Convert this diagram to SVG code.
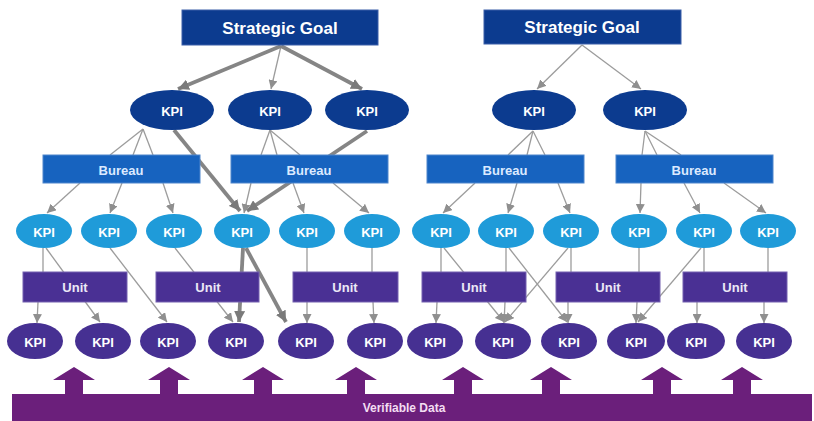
<svg xmlns="http://www.w3.org/2000/svg" width="814" height="421" viewBox="0 0 814 421">
<style>
text{font-family:"Liberation Sans",Arial,sans-serif;font-weight:bold;text-anchor:middle;dominant-baseline:central}
.goal{fill:#0c3b8f;stroke:#3a5fa8;stroke-width:1}
.goal-t{fill:#ffffff;font-size:17px}
.kd{fill:#0c3b8f}
.kd-t{fill:#ffffff;font-size:13px}
.bur{fill:#1763bf;stroke:#4f86cc;stroke-width:1}
.bur-t{fill:#dceaff;font-size:13px}
.kl{fill:#1f9bd9}
.kl-t{fill:#ffffff;font-size:13px}
.unit{fill:#4a3094;stroke:#7461b0;stroke-width:1}
.unit-t{fill:#ece8f7;font-size:13px}
.kp{fill:#463092}
.kp-t{fill:#ffffff;font-size:13px}
.data{fill:#6b1f7b}
.data-t{fill:#f3ddf2;font-size:12px}
.c{stroke:#9c9c9c;stroke-width:1.3;fill:none}
.ca{stroke:#9c9c9c;stroke-width:1.3;fill:none;marker-end:url(#ah)}
.ct{stroke:#858585;stroke-width:3.8;fill:none;marker-end:url(#aht)}
</style>
<defs>
<marker id="ah" markerUnits="userSpaceOnUse" markerWidth="9" markerHeight="9" refX="8" refY="4" orient="auto" viewBox="0 0 8 8"><path d="M0,0 L8,4 L0,8 z" fill="#8f8f8f"/></marker>
<marker id="aht" markerUnits="userSpaceOnUse" markerWidth="11" markerHeight="11" refX="8" refY="4" orient="auto" viewBox="0 0 8 8"><path d="M0,0 L8,4 L0,8 z" fill="#7a7a7a"/></marker>
</defs>
<rect width="814" height="421" fill="#ffffff"/>
<g id="connectors">
<line class="ca" x1="281" y1="46" x2="271" y2="89"/>
<line class="ct" x1="281" y1="46" x2="178" y2="89"/>
<line class="ct" x1="281" y1="46" x2="362" y2="89"/>
<line class="ca" x1="582" y1="45" x2="537" y2="89"/>
<line class="ca" x1="582" y1="45" x2="641" y2="89"/>
<line class="c" x1="143" y1="129" x2="110" y2="155"/>
<line class="c" x1="143" y1="129" x2="133" y2="155"/>
<line class="c" x1="143" y1="129" x2="153" y2="155"/>
<line class="c" x1="270" y1="130" x2="261" y2="155"/>
<line class="c" x1="270" y1="130" x2="277" y2="155"/>
<line class="c" x1="270" y1="130" x2="300" y2="155"/>
<line class="c" x1="533" y1="131" x2="508" y2="155"/>
<line class="c" x1="533" y1="131" x2="527" y2="155"/>
<line class="c" x1="533" y1="131" x2="545" y2="155"/>
<line class="c" x1="645" y1="131" x2="642" y2="155"/>
<line class="c" x1="645" y1="131" x2="657" y2="155"/>
<line class="c" x1="645" y1="131" x2="681" y2="155"/>
<line class="ca" x1="80" y1="183" x2="47" y2="213"/>
<line class="ca" x1="122" y1="183" x2="110" y2="213"/>
<line class="ca" x1="163" y1="183" x2="173" y2="213"/>
<line class="ca" x1="251" y1="183" x2="244" y2="213"/>
<line class="ca" x1="293" y1="183" x2="304" y2="213"/>
<line class="ca" x1="333" y1="183" x2="369" y2="213"/>
<line class="ca" x1="475" y1="183" x2="443" y2="213"/>
<line class="ca" x1="517" y1="183" x2="508" y2="213"/>
<line class="ca" x1="558" y1="183" x2="570" y2="213"/>
<line class="ca" x1="641" y1="183" x2="640" y2="213"/>
<line class="ca" x1="684" y1="183" x2="700" y2="213"/>
<line class="ca" x1="724" y1="183" x2="766" y2="213"/>
<line class="ct" x1="174" y1="130" x2="240" y2="211"/>
<line class="ct" x1="367" y1="131" x2="247" y2="211"/>
<line class="c" x1="43" y1="248" x2="43" y2="272"/>
<line class="ca" x1="46" y1="248" x2="100" y2="322"/>
<line class="ca" x1="110" y1="248" x2="167" y2="322"/>
<line class="ca" x1="175" y1="248" x2="233" y2="322"/>
<line class="ct" x1="243" y1="248" x2="239" y2="322"/>
<line class="ct" x1="246" y1="248" x2="286" y2="322"/>
<line class="c" x1="307" y1="248" x2="307" y2="272"/>
<line class="c" x1="372" y1="248" x2="372" y2="272"/>
<line class="c" x1="441" y1="248" x2="441" y2="272"/>
<line class="ca" x1="444" y1="248" x2="504" y2="322"/>
<line class="c" x1="506" y1="248" x2="506" y2="272"/>
<line class="ca" x1="509" y1="248" x2="567" y2="322"/>
<line class="c" x1="571" y1="248" x2="571" y2="272"/>
<line class="ca" x1="568" y1="248" x2="505" y2="322"/>
<line class="c" x1="639" y1="248" x2="639" y2="272"/>
<line class="c" x1="704" y1="248" x2="704" y2="272"/>
<line class="ca" x1="701" y1="248" x2="638" y2="322"/>
<line class="c" x1="768" y1="248" x2="768" y2="272"/>
<line class="ca" x1="38" y1="302" x2="37" y2="323"/>
<line class="ca" x1="307" y1="302" x2="307" y2="323"/>
<line class="ca" x1="373" y1="302" x2="374" y2="323"/>
<line class="ca" x1="437" y1="302" x2="436" y2="323"/>
<line class="ca" x1="505" y1="302" x2="504" y2="323"/>
<line class="ca" x1="568" y1="302" x2="568" y2="323"/>
<line class="ca" x1="637" y1="302" x2="636" y2="323"/>
<line class="ca" x1="697" y1="302" x2="697" y2="323"/>
<line class="ca" x1="764" y1="302" x2="764" y2="323"/>
</g>
<g id="goal1"><rect class="goal" x="182" y="10" width="196" height="35"/><text class="goal-t" x="280" y="28">Strategic Goal</text></g>
<g id="goal2"><rect class="goal" x="484" y="10" width="197" height="34"/><text class="goal-t" x="582" y="27">Strategic Goal</text></g>
<g id="kd1"><ellipse class="kd" cx="172" cy="110" rx="42" ry="20"/><text class="kd-t" x="172" y="111">KPI</text></g>
<g id="kd2"><ellipse class="kd" cx="270" cy="110" rx="42" ry="20"/><text class="kd-t" x="270" y="111">KPI</text></g>
<g id="kd3"><ellipse class="kd" cx="367" cy="110" rx="42" ry="20"/><text class="kd-t" x="367" y="111">KPI</text></g>
<g id="kd4"><ellipse class="kd" cx="534" cy="110" rx="42" ry="20"/><text class="kd-t" x="534" y="111">KPI</text></g>
<g id="kd5"><ellipse class="kd" cx="645" cy="110" rx="42" ry="20"/><text class="kd-t" x="645" y="111">KPI</text></g>
<g id="bureau1"><rect class="bur" x="43" y="155" width="157" height="28"/><text class="bur-t" x="121" y="170">Bureau</text></g>
<g id="bureau2"><rect class="bur" x="231" y="155" width="157" height="28"/><text class="bur-t" x="309" y="170">Bureau</text></g>
<g id="bureau3"><rect class="bur" x="427" y="155" width="157" height="28"/><text class="bur-t" x="505" y="170">Bureau</text></g>
<g id="bureau4"><rect class="bur" x="616" y="155" width="157" height="28"/><text class="bur-t" x="694" y="170">Bureau</text></g>
<g id="kl1"><ellipse class="kl" cx="44" cy="231" rx="28" ry="17"/><text class="kl-t" x="44" y="232">KPI</text></g>
<g id="kl2"><ellipse class="kl" cx="109" cy="231" rx="28" ry="17"/><text class="kl-t" x="109" y="232">KPI</text></g>
<g id="kl3"><ellipse class="kl" cx="174" cy="231" rx="28" ry="17"/><text class="kl-t" x="174" y="232">KPI</text></g>
<g id="kl4"><ellipse class="kl" cx="242" cy="231" rx="28" ry="17"/><text class="kl-t" x="242" y="232">KPI</text></g>
<g id="kl5"><ellipse class="kl" cx="307" cy="231" rx="28" ry="17"/><text class="kl-t" x="307" y="232">KPI</text></g>
<g id="kl6"><ellipse class="kl" cx="372" cy="231" rx="28" ry="17"/><text class="kl-t" x="372" y="232">KPI</text></g>
<g id="kl7"><ellipse class="kl" cx="441" cy="231" rx="29" ry="17"/><text class="kl-t" x="441" y="232">KPI</text></g>
<g id="kl8"><ellipse class="kl" cx="506" cy="231" rx="28" ry="17"/><text class="kl-t" x="506" y="232">KPI</text></g>
<g id="kl9"><ellipse class="kl" cx="571" cy="231" rx="28" ry="17"/><text class="kl-t" x="571" y="232">KPI</text></g>
<g id="kl10"><ellipse class="kl" cx="639" cy="231" rx="28" ry="17"/><text class="kl-t" x="639" y="232">KPI</text></g>
<g id="kl11"><ellipse class="kl" cx="704" cy="231" rx="28" ry="17"/><text class="kl-t" x="704" y="232">KPI</text></g>
<g id="kl12"><ellipse class="kl" cx="768" cy="231" rx="28" ry="17"/><text class="kl-t" x="768" y="232">KPI</text></g>
<g id="unit1"><rect class="unit" x="23" y="272" width="104" height="30"/><text class="unit-t" x="75" y="287">Unit</text></g>
<g id="unit2"><rect class="unit" x="156" y="272" width="103" height="30"/><text class="unit-t" x="208" y="287">Unit</text></g>
<g id="unit3"><rect class="unit" x="293" y="272" width="105" height="30"/><text class="unit-t" x="345" y="287">Unit</text></g>
<g id="unit4"><rect class="unit" x="422" y="272" width="104" height="30"/><text class="unit-t" x="474" y="287">Unit</text></g>
<g id="unit5"><rect class="unit" x="556" y="272" width="104" height="30"/><text class="unit-t" x="608" y="287">Unit</text></g>
<g id="unit6"><rect class="unit" x="683" y="272" width="104" height="30"/><text class="unit-t" x="735" y="287">Unit</text></g>
<g id="kp1"><ellipse class="kp" cx="35" cy="341" rx="28" ry="18"/><text class="kp-t" x="35" y="342">KPI</text></g>
<g id="kp2"><ellipse class="kp" cx="103" cy="341" rx="28" ry="18"/><text class="kp-t" x="103" y="342">KPI</text></g>
<g id="kp3"><ellipse class="kp" cx="168" cy="341" rx="28" ry="18"/><text class="kp-t" x="168" y="342">KPI</text></g>
<g id="kp4"><ellipse class="kp" cx="236" cy="341" rx="28" ry="18"/><text class="kp-t" x="236" y="342">KPI</text></g>
<g id="kp5"><ellipse class="kp" cx="306" cy="341" rx="28" ry="18"/><text class="kp-t" x="306" y="342">KPI</text></g>
<g id="kp6"><ellipse class="kp" cx="375" cy="341" rx="28" ry="18"/><text class="kp-t" x="375" y="342">KPI</text></g>
<g id="kp7"><ellipse class="kp" cx="435" cy="341" rx="28" ry="18"/><text class="kp-t" x="435" y="342">KPI</text></g>
<g id="kp8"><ellipse class="kp" cx="503" cy="341" rx="28" ry="18"/><text class="kp-t" x="503" y="342">KPI</text></g>
<g id="kp9"><ellipse class="kp" cx="569" cy="341" rx="28" ry="18"/><text class="kp-t" x="569" y="342">KPI</text></g>
<g id="kp10"><ellipse class="kp" cx="636" cy="341" rx="29" ry="18"/><text class="kp-t" x="636" y="342">KPI</text></g>
<g id="kp11"><ellipse class="kp" cx="696" cy="341" rx="29" ry="18"/><text class="kp-t" x="696" y="342">KPI</text></g>
<g id="kp12"><ellipse class="kp" cx="764" cy="341" rx="28" ry="18"/><text class="kp-t" x="764" y="342">KPI</text></g>
<g id="data">
<rect class="data" x="12" y="394" width="800" height="27"/>
<polygon class="data" points="74,367 95,380 83,380 83,396 65,396 65,380 53,380"/>
<polygon class="data" points="169,367 190,380 178,380 178,396 160,396 160,380 148,380"/>
<polygon class="data" points="263,367 284,380 272,380 272,396 254,396 254,380 242,380"/>
<polygon class="data" points="356,367 377,380 365,380 365,396 347,396 347,380 335,380"/>
<polygon class="data" points="463,367 484,380 472,380 472,396 454,396 454,380 442,380"/>
<polygon class="data" points="551,367 572,380 560,380 560,396 542,396 542,380 530,380"/>
<polygon class="data" points="662,367 683,380 671,380 671,396 653,396 653,380 641,380"/>
<polygon class="data" points="742,367 763,380 751,380 751,396 733,396 733,380 721,380"/>
<text class="data-t" x="404" y="408">Verifiable Data</text>
</g>
</svg>
